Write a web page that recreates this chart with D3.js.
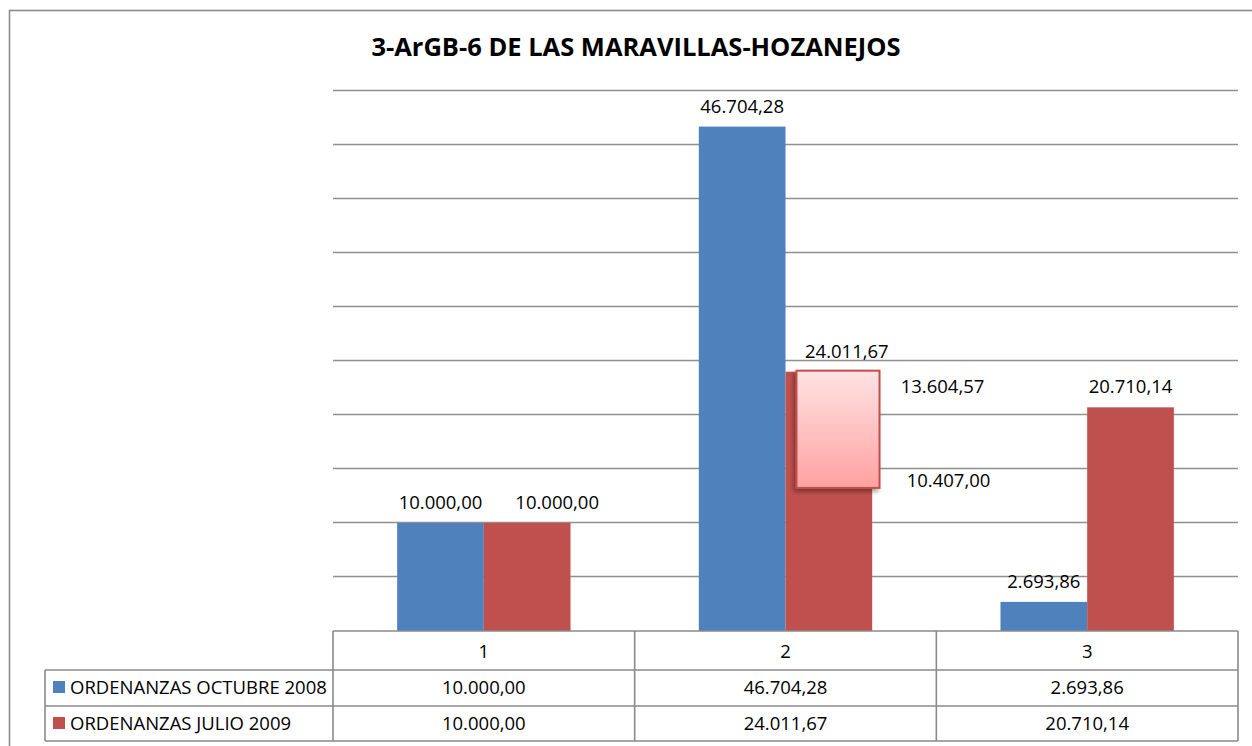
<!DOCTYPE html>
<html>
<head>
<meta charset="utf-8">
<script src="https://cdn.jsdelivr.net/npm/d3@7"></script>
<style>
  body { margin: 0; background: #fff; }
  svg { display: block; font-family: "Open Sans", sans-serif; }
  .grid line { stroke: #8f8f8f; stroke-width: 1.6; }
  .tbl line { stroke: #8a8a8a; stroke-width: 1.6; }
  .lbl { font-size: 18.5px; fill: #000; }
</style>
</head>
<body>
<svg id="chart" width="1252" height="746"></svg>
<script>
// Data
var categories = ["1", "2", "3"];
var seriesNames = ["ORDENANZAS OCTUBRE 2008", "ORDENANZAS JULIO 2009"];
var octubre2008 = [10000.00, 46704.28, 2693.86];
var julio2009 = [10000.00, 24011.67, 20710.14];
var seriesColors = ["#4F81BD", "#C0504D"];
var yTicks = [5000, 10000, 15000, 20000, 25000, 30000, 35000, 40000, 45000, 50000];
// stray note box & loose labels sitting on the second category
var noteLabels = [13604.57, 10407.00];
var titleText = "3-ArGB-6 DE LAS MARAVILLAS-HOZANEJOS";

var es = d3.formatLocale({decimal: ",", thousands: ".", grouping: [3], currency: ["", "€"]});
var fmt = es.format(",.2f");

var W = 1252, H = 746,
  plot_left = 333, plot_right = 1238,
  plot_top = 91, plot_bottom = 631,
  table_left = 45,
  row_h = [39, 36, 35];

var svg = d3.select("#chart");

// chart frame (cropped at right and bottom)
svg.append("rect")
  .attr("x", 9.5).attr("y", 10.5)
  .attr("width", 1400).attr("height", 900)
  .attr("fill", "none").attr("stroke", "#8c8c8c").attr("stroke-width", 1.6);

// Scales
var x0 = d3.scaleBand().domain(categories).range([plot_left, plot_right]);
var x1 = d3.scaleBand().domain([0, 1]).range([0, x0.bandwidth()]).paddingInner(0).paddingOuter(0.74);
var y = d3.scaleLinear().domain([0, 50000]).range([plot_bottom, plot_top]);

// Title
svg.append("text")
  .attr("x", 636).attr("y", 56)
  .attr("text-anchor", "middle")
  .style("font-weight", "bold").style("font-size", "25.5px")
  .text(titleText);

// Gridlines
svg.append("g").classed("grid", true)
  .selectAll("line").data(yTicks).enter().append("line")
  .attr("x1", plot_left).attr("x2", plot_right)
  .attr("y1", function (d) { return Math.round(y(d)) - 0.5; })
  .attr("y2", function (d) { return Math.round(y(d)) - 0.5; });

// Bars
var series = [octubre2008, julio2009];
var bars = svg.append("g");
series.forEach(function (vals, s) {
  bars.selectAll(".bar" + s).data(vals).enter().append("rect")
    .attr("x", function (d, i) { return x0(categories[i]) + x1(s); })
    .attr("width", x1.bandwidth())
    .attr("y", function (d) { return y(d); })
    .attr("height", function (d) { return y(0) - y(d); })
    .attr("fill", seriesColors[s]);
});

// Value labels above bars (some labels were dragged a bit right)
var labelDx = [[0, 0, 0], [30, 18, 0]];
series.forEach(function (vals, s) {
  svg.selectAll(".vl" + s).data(vals).enter().append("text")
    .classed("lbl", true)
    .attr("text-anchor", "middle")
    .attr("x", function (d, i) { return x0(categories[i]) + x1(s) + x1.bandwidth() / 2 + labelDx[s][i]; })
    .attr("y", function (d) { return y(d) - 14; })
    .text(function (d) { return fmt(d); });
});

// Note box over the 2nd red bar
var defs = svg.append("defs");
var grad = defs.append("linearGradient").attr("id", "pinkg").attr("x1", 0).attr("y1", 0).attr("x2", 0).attr("y2", 1);
grad.append("stop").attr("offset", "0%").attr("stop-color", "#FFE3E3");
grad.append("stop").attr("offset", "100%").attr("stop-color", "#FFA1A1");
var shadow = defs.append("filter").attr("id", "shd").attr("x", "-20%").attr("y", "-20%").attr("width", "150%").attr("height", "150%");
shadow.append("feDropShadow").attr("dx", -2).attr("dy", 3).attr("stdDeviation", 2).attr("flood-color", "#000").attr("flood-opacity", 0.35);

var bx = x0(categories[1]) + x1(1) + 11,
  by = y(julio2009[1]) - 1,
  bw = 83,
  bh = y(13250) - by;
svg.append("rect")
  .attr("x", bx).attr("y", by).attr("width", bw).attr("height", bh)
  .attr("fill", "url(#pinkg)").attr("stroke", "#C0504D").attr("stroke-width", 2)
  .attr("filter", "url(#shd)");

svg.selectAll(".note").data(noteLabels).enter().append("text")
  .classed("lbl", true)
  .attr("text-anchor", "middle")
  .attr("x", function (d, i) { return bx + bw + (i ? 69 : 63); })
  .attr("y", function (d, i) { return i ? by + bh - 1 : by + 22; })
  .text(function (d) { return fmt(d); });

// Data table
var tbl = svg.append("g").classed("tbl", true);
var t0 = plot_bottom, t1 = t0 + row_h[0], t2 = t1 + row_h[1], t3 = t2 + row_h[2];
// horizontal lines
tbl.append("line").attr("x1", plot_left).attr("x2", plot_right).attr("y1", t0).attr("y2", t0);
[t1, t2, t3].forEach(function (ty) {
  tbl.append("line").attr("x1", table_left).attr("x2", plot_right).attr("y1", ty).attr("y2", ty);
});
// vertical lines
tbl.append("line").attr("x1", table_left).attr("x2", table_left).attr("y1", t1).attr("y2", t3);
categories.forEach(function (c) {
  tbl.append("line").attr("x1", x0(c)).attr("x2", x0(c)).attr("y1", t0).attr("y2", t3);
});
tbl.append("line").attr("x1", plot_right).attr("x2", plot_right).attr("y1", t0).attr("y2", t3);

// header
svg.selectAll(".hdr").data(categories).enter().append("text")
  .classed("lbl", true)
  .attr("text-anchor", "middle")
  .attr("x", function (c) { return x0(c) + x0.bandwidth() / 2; })
  .attr("y", t0 + 27)
  .text(function (c) { return c; });

var rowTop = [t1, t2];
series.forEach(function (vals, s) {
  svg.append("rect")
    .attr("x", 53).attr("y", rowTop[s] + 11).attr("width", 12).attr("height", 12)
    .attr("fill", seriesColors[s]);
  svg.append("text").classed("lbl", true)
    .attr("x", 70).attr("y", rowTop[s] + 24)
    .text(seriesNames[s]);
  svg.selectAll(".cell" + s).data(vals).enter().append("text")
    .classed("lbl", true)
    .attr("text-anchor", "middle")
    .attr("x", function (d, i) { return x0(categories[i]) + x0.bandwidth() / 2; })
    .attr("y", rowTop[s] + 24)
    .text(function (d) { return fmt(d); });
});
</script>
</body>
</html>
